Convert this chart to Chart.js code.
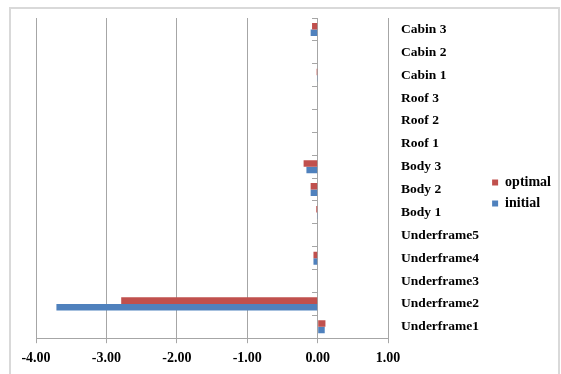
<!DOCTYPE html>
<html>
<head>
<meta charset="utf-8">
<script src="https://cdn.jsdelivr.net/npm/chart.js@4/dist/chart.umd.min.js"></script>
<style>
  html, body { margin: 0; padding: 0; background: #fff; overflow: hidden; }
  #wrap { position: relative; width: 561px; height: 374px; }
  #frame { position: absolute; left: 9px; top: 7px; width: 551px; height: 380px; box-sizing: border-box; border: 2px solid #d9d9d9; pointer-events: none; }
  canvas { position: absolute; left: 0; top: 0; }
</style>
</head>
<body>
<div id="wrap">
  <canvas id="c" width="561" height="374"></canvas>
  <div id="frame"></div>
</div>
<script>
// Categories listed bottom to top
const categories = ['Underframe1', 'Underframe2', 'Underframe3', 'Underframe4', 'Underframe5',
  'Body 1', 'Body 2', 'Body 3', 'Roof 1', 'Roof 2', 'Roof 3', 'Cabin 1', 'Cabin 2', 'Cabin 3'];
const optimalValues = [0.11, -2.79, 0, -0.06, 0, -0.02, -0.10, -0.20, 0, 0, 0, -0.015, 0, -0.08];
const initialValues = [0.10, -3.71, 0, -0.06, 0, -0.01, -0.10, -0.16, 0, 0, 0, -0.01, 0, -0.10];
const seriesNames = ['optimal', 'initial'];
const xTickMin = -4, xTickMax = 1, xTickStep = 1;

const GRID = '#a6a6a6';
const FONT = 'Liberation Serif, Times New Roman, serif';

new Chart(document.getElementById('c'), {
  type: 'bar',
  data: {
    labels: categories,
    datasets: [
      { label: seriesNames[0], data: optimalValues, backgroundColor: '#C0504D', borderWidth: 0,
        categoryPercentage: 0.57, barPercentage: 1.0 },
      { label: seriesNames[1], data: initialValues, backgroundColor: '#4F81BD', borderWidth: 0,
        categoryPercentage: 0.57, barPercentage: 1.0 }
    ]
  },
  options: {
    indexAxis: 'y',
    responsive: false,
    animation: false,
    layout: { padding: { left: 36, top: 12, right: 0, bottom: 0 } },
    plugins: {
      tooltip: { enabled: false },
      legend: {
        position: 'right',
        labels: {
          boxWidth: 6, boxHeight: 6, padding: 7,
          color: '#000',
          font: { family: FONT, size: 14, weight: 'bold' }
        }
      }
    },
    scales: {
      x: {
        type: 'linear',
        min: xTickMin, max: xTickMax,
        ticks: {
          stepSize: xTickStep,
          color: '#000',
          padding: 7,
          font: { family: FONT, size: 14, weight: 'bold' },
          callback: v => Number(v).toFixed(2)
        },
        grid: { color: GRID, lineWidth: 1, tickLength: 5, drawTicks: true },
        border: { display: true, color: GRID }
      },
      y: {
        type: 'category',
        position: 'right',
        reverse: true,
        offset: true,
        afterFit: s => { s.width = 97; s.paddingTop = 18; s.paddingBottom = 0; },
        grid: { display: false, drawTicks: false, offset: true },
        border: { display: false },
        ticks: {
          color: '#000',
          padding: 13,
          font: { family: FONT, size: 13.5, weight: 'bold' }
        }
      },
      yZero: {
        axis: 'y',
        type: 'category',
        labels: categories,
        reverse: true,
        offset: true,
        position: { x: 0 },
        grid: { drawOnChartArea: false, drawTicks: true, tickLength: 5, offset: true, color: GRID },
        border: { display: true, color: GRID },
        ticks: { display: false }
      }
    }
  }
});
</script>
</body>
</html>
